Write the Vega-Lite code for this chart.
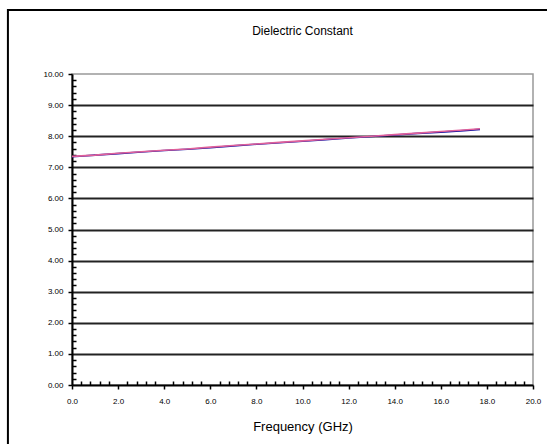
{
  "$schema": "https://vega.github.io/schema/vega-lite/v6.json",
  "width": 461,
  "height": 311,
  "autosize": "none",
  "padding": {"left": 72, "top": 74, "right": 14, "bottom": 59},
  "background": "white",
  "config": {
    "font": "Liberation Sans",
    "view": {"stroke": "#999999", "strokeWidth": 1.5},
    "axis": {"labelFont": "Liberation Sans", "titleFont": "Liberation Sans"}
  },
  "title": {"text": "Dielectric Constant", "fontSize": 12, "fontWeight": "normal", "font": "Liberation Sans", "color": "#000000", "offset": -29},
  "datasets": {
    "series": [
      {"freq": 0.0, "er": 7.34, "s": "A"},
      {"freq": 1.0, "er": 7.39, "s": "A"},
      {"freq": 2.0, "er": 7.44, "s": "A"},
      {"freq": 3.0, "er": 7.49, "s": "A"},
      {"freq": 4.0, "er": 7.54, "s": "A"},
      {"freq": 5.0, "er": 7.58, "s": "A"},
      {"freq": 6.0, "er": 7.63, "s": "A"},
      {"freq": 7.0, "er": 7.69, "s": "A"},
      {"freq": 8.0, "er": 7.74, "s": "A"},
      {"freq": 9.0, "er": 7.79, "s": "A"},
      {"freq": 10.0, "er": 7.84, "s": "A"},
      {"freq": 11.0, "er": 7.89, "s": "A"},
      {"freq": 12.0, "er": 7.94, "s": "A"},
      {"freq": 13.0, "er": 7.99, "s": "A"},
      {"freq": 14.0, "er": 8.04, "s": "A"},
      {"freq": 15.0, "er": 8.09, "s": "A"},
      {"freq": 16.0, "er": 8.13, "s": "A"},
      {"freq": 17.0, "er": 8.18, "s": "A"},
      {"freq": 17.7, "er": 8.22, "s": "A"},
      {"freq": 0.0, "er": 7.35, "s": "B"},
      {"freq": 1.0, "er": 7.39, "s": "B"},
      {"freq": 2.0, "er": 7.45, "s": "B"},
      {"freq": 3.0, "er": 7.50, "s": "B"},
      {"freq": 4.0, "er": 7.55, "s": "B"},
      {"freq": 5.0, "er": 7.59, "s": "B"},
      {"freq": 6.0, "er": 7.65, "s": "B"},
      {"freq": 7.0, "er": 7.70, "s": "B"},
      {"freq": 8.0, "er": 7.75, "s": "B"},
      {"freq": 9.0, "er": 7.80, "s": "B"},
      {"freq": 10.0, "er": 7.85, "s": "B"},
      {"freq": 11.0, "er": 7.90, "s": "B"},
      {"freq": 12.0, "er": 7.95, "s": "B"},
      {"freq": 13.0, "er": 8.00, "s": "B"},
      {"freq": 14.0, "er": 8.05, "s": "B"},
      {"freq": 15.0, "er": 8.10, "s": "B"},
      {"freq": 16.0, "er": 8.15, "s": "B"},
      {"freq": 17.0, "er": 8.20, "s": "B"},
      {"freq": 17.7, "er": 8.24, "s": "B"}
    ]
  },
  "encoding": {
    "x": {
      "type": "quantitative",
      "scale": {"domain": [0, 20], "nice": false, "zero": false},
      "axis": {
        "title": "Frequency (GHz)",
        "titleFontSize": 13, "titleFontWeight": "normal", "titleColor": "#000000", "titlePadding": 15,
        "values": [0,0.4,0.8,1.2,1.6,2,2.4,2.8,3.2,3.6,4,4.4,4.8,5.2,5.6,6,6.4,6.8,7.2,7.6,8,8.4,8.8,9.2,9.6,10,10.4,10.8,11.2,11.6,12,12.4,12.8,13.2,13.6,14,14.4,14.8,15.2,15.6,16,16.4,16.8,17.2,17.6,18,18.4,18.8,19.2,19.6,20],
        "labelExpr": "abs(datum.value/2 - round(datum.value/2)) < 0.001 ? format(datum.value, '.1f') : ''",
        "labelFontSize": 8, "labelColor": "#000000", "labelPadding": 8,
        "labelOverlap": false, "labelFlush": false,
        "tickColor": "#000000", "tickWidth": 1.5,
        "tickSize": {"condition": {"test": "abs(datum.value/2 - round(datum.value/2)) < 0.001", "value": 4}, "value": -4},
        "domainColor": "#000000", "domainWidth": 2,
        "grid": false
      }
    },
    "y": {
      "type": "quantitative",
      "scale": {"domain": [0, 10], "nice": false, "zero": false},
      "axis": {
        "title": null,
        "values": [0,0.2,0.4,0.6,0.8,1,1.2,1.4,1.6,1.8,2,2.2,2.4,2.6,2.8,3,3.2,3.4,3.6,3.8,4,4.2,4.4,4.6,4.8,5,5.2,5.4,5.6,5.8,6,6.2,6.4,6.6,6.8,7,7.2,7.4,7.6,7.8,8,8.2,8.4,8.6,8.8,9,9.2,9.4,9.6,9.8,10],
        "labelExpr": "abs(datum.value - round(datum.value)) < 0.001 ? format(datum.value, '.2f') : ''",
        "labelFontSize": 8, "labelColor": "#000000", "labelPadding": 5,
        "labelOverlap": false, "labelFlush": false,
        "tickColor": "#000000", "tickWidth": 1.5,
        "tickSize": {"condition": {"test": "abs(datum.value - round(datum.value)) < 0.001", "value": 4}, "value": -4},
        "domainColor": "#000000", "domainWidth": 2,
        "grid": true,
        "gridColor": "#222222",
        "gridWidth": 2,
        "gridOpacity": {"condition": {"test": "abs(datum.value - round(datum.value)) < 0.001 && datum.value > 0 && datum.value < 10", "value": 1}, "value": 0}
      }
    }
  },
  "layer": [
    {
      "data": {"name": "series"},
      "mark": {"type": "line", "strokeWidth": 1.6},
      "encoding": {
        "x": {"field": "freq", "type": "quantitative"},
        "y": {"field": "er", "type": "quantitative"},
        "color": {
          "field": "s", "type": "nominal",
          "scale": {"domain": ["B", "A"], "range": ["#e0609a", "#0a0aa0"]},
          "legend": null
        },
        "order": {"field": "s", "sort": "descending"}
      }
    },
    {
      "data": {"values": [{}]},
      "mark": {"type": "rect", "filled": false, "stroke": "#000000", "strokeWidth": 2, "clip": false},
      "encoding": {
        "x": {"datum": -2.78, "type": "quantitative"},
        "x2": {"datum": 21.6},
        "y": {"datum": 12.06, "type": "quantitative"},
        "y2": {"datum": -2.5}
      }
    }
  ]
}
